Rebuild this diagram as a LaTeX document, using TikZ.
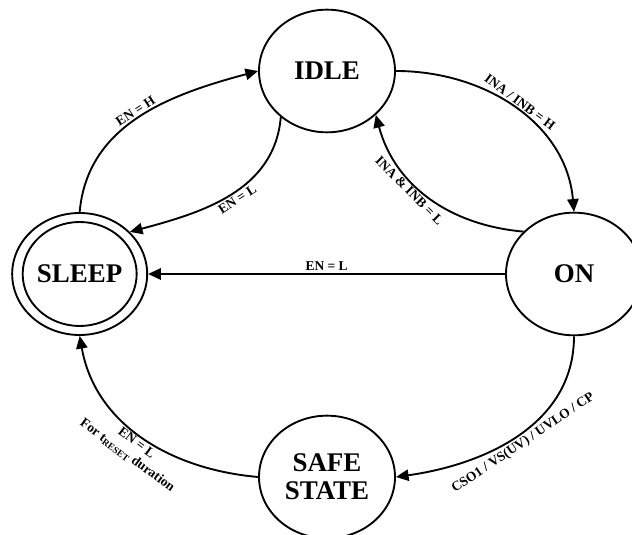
\documentclass[tikz,border=0pt]{standalone}
\usepackage{fontspec}
\setmainfont{Liberation Serif}
\usetikzlibrary{shapes.geometric, arrows.meta}

\begin{document}
\begin{tikzpicture}[
  state/.style={draw, ellipse, line width=1.6pt, minimum width=4.08cm, minimum height=3.68cm,
    inner sep=0pt, align=center, font=\fontsize{23}{24}\selectfont\bfseries},
  trans/.style={line width=1.6pt, -{Triangle[length=3.8mm, width=3.4mm]}},
  lbl/.style={font=\fontsize{11.5}{13}\selectfont\bfseries, sloped, inner sep=2pt, align=center}
]
\useasboundingbox (0,0) rectangle (18.96,16.05);

\node[state] (idle) at (9.81,13.92) {IDLE};
\node[state, minimum width=4.05cm, minimum height=3.66cm] (sleep) at (2.39,7.83) {SLEEP};
\node[state, minimum width=3.42cm, minimum height=3.12cm] (sleepin) at (sleep.center) {};
\node[state] (on) at (17.22,7.83) {ON};
\node[state] (safe) at (9.81,1.74) {SAFE\\STATE};

\draw[trans] (sleep.north) to[out=85, in=195] node[lbl, above, pos=0.5] {EN = H} (idle.west);
\draw[trans] (idle.225) to[out=265, in=15] node[lbl, below, pos=0.48] {EN = L} (sleep.40);
\draw[trans] (idle.east) to[out=0, in=95] node[lbl, above, pos=0.5] {INA / INB = H} (on.north);
\draw[trans] (on.140) to[out=175, in=-75] node[lbl, below, pos=0.6] {INA \& INB = L} (idle.-42);
\draw[trans] (on.west) -- node[lbl, above] {EN = L} (sleep.east);
\draw[trans] (on.south) to[out=-90, in=8] node[lbl, below, pos=0.5] {CSO1 / VS(UV) / UVLO / CP} (safe.east);
\draw[trans] (safe.west) to[out=175, in=-80] node[lbl, below, pos=0.5] {EN = L\\For t\textsubscript{RESET} duration} (sleep.south);

\end{tikzpicture}
\end{document}
